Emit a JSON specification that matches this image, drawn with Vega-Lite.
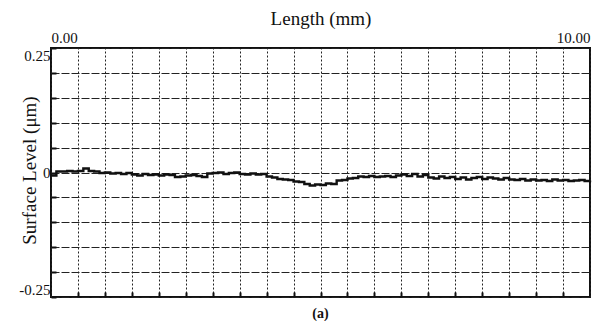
{
  "$schema": "https://vega.github.io/schema/vega-lite/v6.json",
  "width": 539,
  "height": 249,
  "autosize": "none",
  "padding": {"left": 51, "top": 48, "right": 19, "bottom": 24},
  "background": "white",
  "title": {"text": "(a)", "orient": "bottom", "anchor": "middle", "fontSize": 14, "font": "Liberation Serif", "fontWeight": "bold", "color": "#111", "offset": 9},
  "config": {"view": {"stroke": "#111", "strokeWidth": 2}, "font": "Liberation Serif"},
  "data": {"values": [
    {"length": 0.0, "level": -0.006}, {"length": 0.1, "level": 0.002}, {"length": 0.2, "level": 0.002}, {"length": 0.3, "level": 0.003}, {"length": 0.4, "level": 0.002},
    {"length": 0.5, "level": 0.003}, {"length": 0.6, "level": 0.008}, {"length": 0.7, "level": 0.003}, {"length": 0.8, "level": 0.002}, {"length": 0.9, "level": -0.001},
    {"length": 1.0, "level": 0.0}, {"length": 1.1, "level": -0.002}, {"length": 1.2, "level": -0.001}, {"length": 1.3, "level": -0.003}, {"length": 1.4, "level": -0.001},
    {"length": 1.5, "level": -0.004}, {"length": 1.6, "level": -0.006}, {"length": 1.7, "level": -0.003}, {"length": 1.8, "level": -0.005}, {"length": 1.9, "level": -0.004},
    {"length": 2.0, "level": -0.006}, {"length": 2.1, "level": -0.004}, {"length": 2.2, "level": -0.005}, {"length": 2.3, "level": -0.009}, {"length": 2.4, "level": -0.008},
    {"length": 2.5, "level": -0.006}, {"length": 2.6, "level": -0.005}, {"length": 2.7, "level": -0.007}, {"length": 2.8, "level": -0.009}, {"length": 2.9, "level": -0.002},
    {"length": 3.0, "level": -0.001}, {"length": 3.1, "level": 0.0}, {"length": 3.2, "level": -0.003}, {"length": 3.3, "level": -0.001}, {"length": 3.4, "level": 0.0},
    {"length": 3.5, "level": -0.003}, {"length": 3.6, "level": -0.004}, {"length": 3.7, "level": -0.002}, {"length": 3.8, "level": -0.004}, {"length": 3.9, "level": -0.003},
    {"length": 4.0, "level": -0.008}, {"length": 4.1, "level": -0.010}, {"length": 4.2, "level": -0.013}, {"length": 4.3, "level": -0.014}, {"length": 4.4, "level": -0.015},
    {"length": 4.5, "level": -0.018}, {"length": 4.6, "level": -0.019}, {"length": 4.7, "level": -0.023}, {"length": 4.8, "level": -0.026}, {"length": 4.9, "level": -0.024},
    {"length": 5.0, "level": -0.025}, {"length": 5.1, "level": -0.022}, {"length": 5.2, "level": -0.023}, {"length": 5.3, "level": -0.016}, {"length": 5.4, "level": -0.015},
    {"length": 5.5, "level": -0.012}, {"length": 5.6, "level": -0.011}, {"length": 5.7, "level": -0.008}, {"length": 5.8, "level": -0.009}, {"length": 5.9, "level": -0.007},
    {"length": 6.0, "level": -0.009}, {"length": 6.1, "level": -0.008}, {"length": 6.2, "level": -0.007}, {"length": 6.3, "level": -0.009}, {"length": 6.4, "level": -0.006},
    {"length": 6.5, "level": -0.004}, {"length": 6.6, "level": -0.007}, {"length": 6.7, "level": -0.003}, {"length": 6.8, "level": -0.008}, {"length": 6.9, "level": -0.005},
    {"length": 7.0, "level": -0.010}, {"length": 7.1, "level": -0.012}, {"length": 7.2, "level": -0.008}, {"length": 7.3, "level": -0.011}, {"length": 7.4, "level": -0.009},
    {"length": 7.5, "level": -0.013}, {"length": 7.6, "level": -0.010}, {"length": 7.7, "level": -0.014}, {"length": 7.8, "level": -0.011}, {"length": 7.9, "level": -0.009},
    {"length": 8.0, "level": -0.013}, {"length": 8.1, "level": -0.010}, {"length": 8.2, "level": -0.012}, {"length": 8.3, "level": -0.014}, {"length": 8.4, "level": -0.011},
    {"length": 8.5, "level": -0.014}, {"length": 8.6, "level": -0.015}, {"length": 8.7, "level": -0.013}, {"length": 8.8, "level": -0.016}, {"length": 8.9, "level": -0.014},
    {"length": 9.0, "level": -0.016}, {"length": 9.1, "level": -0.015}, {"length": 9.2, "level": -0.017}, {"length": 9.3, "level": -0.014}, {"length": 9.4, "level": -0.016},
    {"length": 9.5, "level": -0.015}, {"length": 9.6, "level": -0.017}, {"length": 9.7, "level": -0.016}, {"length": 9.8, "level": -0.015}, {"length": 9.9, "level": -0.017},
    {"length": 10.0, "level": -0.016}
  ]},
  "layer": [
    {
      "mark": {"type": "line", "interpolate": "step-after", "color": "#111", "strokeWidth": 2.4},
      "encoding": {
        "x": {
          "field": "length", "type": "quantitative",
          "scale": {"domain": [0, 10], "nice": false, "zero": false},
          "axis": {
            "orient": "top", "title": "Length (mm)",
            "values": [0, 0.5, 1, 1.5, 2, 2.5, 3, 3.5, 4, 4.5, 5, 5.5, 6, 6.5, 7, 7.5, 8, 8.5, 9, 9.5, 10],
            "labelExpr": "datum.value == 0 || datum.value == 10 ? format(datum.value, '.2f') : ''",
            "labelFlush": true, "labelOverlap": false, "ticks": false, "domain": false,
            "grid": true, "gridDash": [2, 2], "gridColor": "#222", "gridOpacity": 1, "gridWidth": 1,
            "labelFontSize": 15, "labelColor": "#111", "labelPadding": 3,
            "titleFontSize": 19, "titleFontWeight": "normal", "titleColor": "#111", "titlePadding": 2
          }
        },
        "y": {
          "field": "level", "type": "quantitative",
          "scale": {"domain": [-0.25, 0.25], "nice": false, "zero": false},
          "axis": {
            "title": "Surface Level (μm)",
            "titleX": -22, "titleY": 122, "titleAngle": -90, "titleAlign": "center", "titleBaseline": "middle",
            "values": [-0.25, -0.2, -0.15, -0.1, -0.05, 0, 0.05, 0.1, 0.15, 0.2, 0.25],
            "labelExpr": "datum.value == 0.25 ? '0.25' : datum.value == -0.25 ? '-0.25' : datum.value == 0 ? '0' : ''",
            "labelFlush": true, "labelOverlap": false, "domain": false,
            "ticks": true, "tickSize": -5, "tickWidth": 2, "tickColor": "#111",
            "grid": true, "gridDash": [8, 2], "gridColor": "#222", "gridOpacity": 1, "gridWidth": 1,
            "labelFontSize": 15, "labelColor": "#111", "labelPadding": 6,
            "titleFontSize": 19, "titleFontWeight": "normal", "titleColor": "#111"
          }
        }
      }
    },
    {
      "mark": {"type": "tick", "opacity": 0},
      "encoding": {
        "x": {
          "field": "length", "type": "quantitative",
          "scale": {"domain": [0, 10], "nice": false, "zero": false},
          "axis": {
            "orient": "bottom", "title": null, "labels": false, "domain": false, "grid": false,
            "values": [0.5, 1, 1.5, 2, 2.5, 3, 3.5, 4, 4.5, 5, 5.5, 6, 6.5, 7, 7.5, 8, 8.5, 9, 9.5],
            "ticks": true, "tickSize": -5, "tickWidth": 2, "tickColor": "#111"
          }
        }
      }
    }
  ],
  "resolve": {"axis": {"x": "independent"}}
}
